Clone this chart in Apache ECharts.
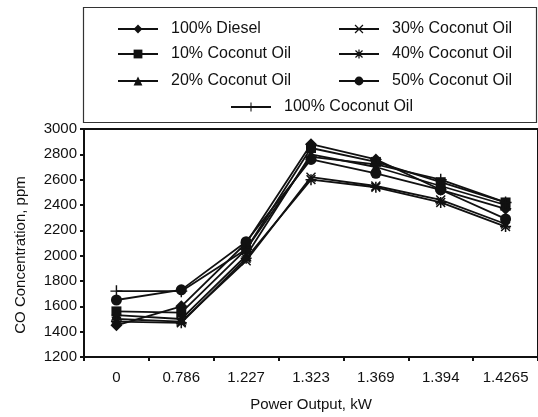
<!DOCTYPE html>
<html>
<head>
<meta charset="utf-8">
<script src="https://cdn.jsdelivr.net/npm/echarts@6/dist/echarts.min.js"></script>
<style>
html, body { margin: 0; padding: 0; background: #fff; }
#main { width: 538px; height: 417px; }
</style>
</head>
<body>
<div id="main"></div>
<script>
// 数据
var powerOutput = ['0', '0.786', '1.227', '1.323', '1.369', '1.394', '1.4265'];
var diesel100   = [1450, 1600, 2100, 2880, 2760, 2520, 2370];
var coconut10   = [1560, 1550, 2050, 2850, 2740, 2580, 2420];
var coconut20   = [1530, 1500, 2000, 2800, 2700, 2550, 2400];
var coconut30   = [1500, 1480, 1960, 2620, 2550, 2440, 2250];
var coconut40   = [1480, 1470, 1980, 2600, 2540, 2420, 2230];
var coconut50   = [1650, 1730, 2110, 2760, 2650, 2520, 2290];
var coconut100  = [1720, 1720, 2050, 2780, 2720, 2600, 2420];

var yTicks = [1200, 1400, 1600, 1800, 2000, 2200, 2400, 2600, 2800, 3000];

var FONT = 'Liberation Sans';

// 符号
var crossPath = 'path://M0,1L1,0L5,4L9,0L10,1L6,5L10,9L9,10L5,6L1,10L0,9L4,5Z';
var plusPath = 'path://M4.4,0H5.6V4.4H10V5.6H5.6V10H4.4V5.6H0V4.4H4.4Z';
var starPath = 'path://M4.3,0H5.7V4.3H10V5.7H5.7V10H4.3V5.7H0V4.3H4.3Z M0.5,1.5L1.5,0.5L5,4L8.5,0.5L9.5,1.5L6,5L9.5,8.5L8.5,9.5L5,6L1.5,9.5L0.5,8.5L4,5Z';

function mkSeries(name, data, symbol, size) {
    return {
        name: name,
        type: 'line',
        data: data,
        symbol: symbol,
        symbolSize: size,
        showAllSymbol: true,
        lineStyle: { color: '#111', width: 1.8 },
        itemStyle: { color: '#111', borderWidth: 0 }
    };
}

function mkLegend(name, left, top) {
    return {
        data: [name],
        left: left,
        top: top,
        padding: 0,
        itemWidth: 40,
        itemHeight: 11,
        itemGap: 0,
        selectedMode: false,
        textStyle: { fontFamily: FONT, fontSize: 16, color: '#111', padding: [0, 0, 0, 8] }
    };
}

var myChart = echarts.init(document.getElementById('main'));

myChart.setOption({
    animation: false,
    backgroundColor: '#fff',
    graphic: [{
        type: 'rect',
        shape: { x: 83.5, y: 7.5, width: 453, height: 115 },
        style: { fill: 'none', stroke: '#333', lineWidth: 1.2 }
    }],
    legend: [
        mkLegend('100% Diesel', 117, 21),
        mkLegend('10% Coconut Oil', 117, 46),
        mkLegend('20% Coconut Oil', 117, 73),
        mkLegend('30% Coconut Oil', 338, 21),
        mkLegend('40% Coconut Oil', 338, 46),
        mkLegend('50% Coconut Oil', 338, 73),
        mkLegend('100% Coconut Oil', 230, 99)
    ],
    grid: {
        left: 84,
        top: 129,
        width: 455,
        height: 230,
        show: true,
        borderColor: '#111',
        borderWidth: 2
    },
    xAxis: {
        type: 'category',
        data: powerOutput,
        boundaryGap: true,
        name: 'Power Output, kW',
        nameLocation: 'middle',
        nameGap: 40,
        nameTextStyle: { fontFamily: FONT, fontSize: 15, color: '#111' },
        axisLine: { lineStyle: { color: '#111', width: 2 } },
        axisTick: { show: true, length: 4, lineStyle: { color: '#111', width: 2 } },
        axisLabel: { fontFamily: FONT, fontSize: 15, color: '#111', margin: 13 },
        splitLine: { show: false }
    },
    yAxis: {
        type: 'value',
        min: yTicks[0],
        max: yTicks[yTicks.length - 1],
        interval: 200,
        name: 'CO Concentration, ppm',
        nameLocation: 'middle',
        nameGap: 56,
        nameTextStyle: { fontFamily: FONT, fontSize: 15, color: '#111', padding: [0, 24, 0, 0] },
        axisLine: { show: true, lineStyle: { color: '#111', width: 2 } },
        axisTick: { show: true, length: 4, lineStyle: { color: '#111', width: 2 } },
        axisLabel: {
            fontFamily: FONT, fontSize: 15, color: '#111', margin: 7,
            formatter: function (v) { return String(v); }
        },
        splitLine: { show: false }
    },
    series: [
        mkSeries('100% Diesel', diesel100, 'diamond', 12),
        mkSeries('10% Coconut Oil', coconut10, 'rect', 10),
        mkSeries('20% Coconut Oil', coconut20, 'triangle', 11),
        mkSeries('30% Coconut Oil', coconut30, crossPath, 10),
        mkSeries('40% Coconut Oil', coconut40, starPath, 11),
        mkSeries('50% Coconut Oil', coconut50, 'circle', 11),
        mkSeries('100% Coconut Oil', coconut100, plusPath, 12)
    ]
});
</script>
</body>
</html>
